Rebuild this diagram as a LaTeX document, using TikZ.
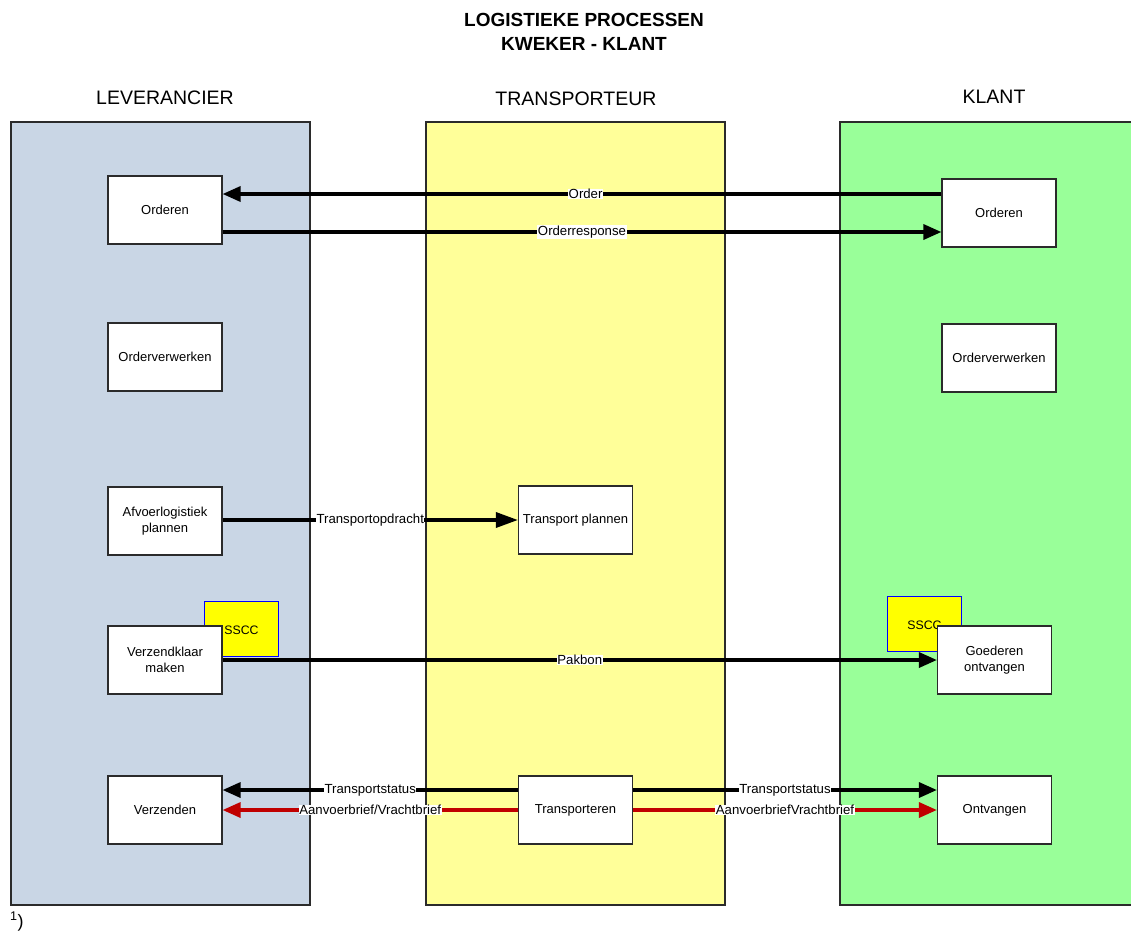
\documentclass[tikz,border=0pt]{standalone}
\usepackage{fontspec}
\setmainfont{Liberation Sans}
\usetikzlibrary{arrows.meta}
\definecolor{lanelev}{HTML}{C9D6E5}
\definecolor{lanetrans}{HTML}{FFFF99}
\definecolor{laneklant}{HTML}{99FF99}
\definecolor{ssccfill}{HTML}{FFFF00}
\definecolor{docred}{HTML}{C00000}
\definecolor{edge}{HTML}{2B2B2B}
\tikzset{
  lane/.style={draw=edge, line width=1.2pt},
  procbox/.style={draw=edge, line width=1.2pt, fill=white, minimum width=114pt, minimum height=68pt,
    align=center, font=\fontsize{13}{15.5}\selectfont, inner sep=1pt},
  ssccbox/.style={draw=blue, line width=0.9pt, fill=ssccfill, minimum width=74pt, minimum height=56pt,
    inner sep=0pt},
  sscctxt/.style={font=\fontsize{12.3}{14}\selectfont, inner sep=0pt},
  flow/.style={line width=3.4pt, -{Triangle[length=18pt,width=15pt]}},
  longflow/.style={line width=3.4pt, -{Triangle[length=22pt,width=15pt]}},
  docflow/.style={flow, draw=docred, -{Triangle[length=18pt,width=15pt,color=docred]}},
  lbl/.style={fill=white, inner sep=0.5pt, font=\fontsize{13.2}{15}\selectfont, text=black},
  lanehead/.style={font=\fontsize{19.5}{23}\selectfont},
  titletxt/.style={font=\fontsize{19}{23}\selectfont\bfseries, align=center}
}
\begin{document}
\begin{tikzpicture}[x=1pt, y=-1pt]
\useasboundingbox (0,0) rectangle (1131,932);

% title and lane headings
\node[titletxt] (title1) at (584,20) {LOGISTIEKE PROCESSEN};
\node[titletxt] (title2) at (584,44) {KWEKER - KLANT};
\node[lanehead] (hlev) at (165,98) {LEVERANCIER};
\node[lanehead] (htrans) at (576,99) {TRANSPORTEUR};
\node[lanehead] (hklant) at (994,97) {KLANT};

% swim lanes
\draw[lane, fill=lanelev] (11,122) rectangle (310,905);
\draw[lane, fill=lanetrans] (426,122) rectangle (725,905);
\draw[lane, fill=laneklant] (840,122) rectangle (1140,905);

% SSCC labels (behind the process boxes)
\node[ssccbox, minimum height=55pt] (ssccL) at (241.5,628.5) {};
\node[sscctxt] (ssccLt) at (241.5,630) {SSCC};
\node[ssccbox, minimum height=55pt] (ssccK) at (924,623.5) {};
\node[sscctxt] (ssccKt) at (924.5,625) {SSCC};

% process boxes
\node[procbox] (lorder) at (165,210) {Orderen};
\node[procbox] (korder) at (999,213) {Orderen};
\node[procbox] (lverw) at (165,357) {Orderverwerken};
\node[procbox] (kverw) at (999,358) {Orderverwerken};
\node[procbox] (afvoer) at (165,521) {Afvoerlogistiek\\plannen};
\node[procbox] (tplan) at (575.5,520) {Transport plannen};
\node[procbox] (verzk) at (165,660) {Verzendklaar\\maken};
\node[procbox] (goed) at (994.5,660) {Goederen\\ontvangen};
\node[procbox] (verz) at (165,810) {Verzenden};
\node[procbox] (transp) at (575.5,810) {Transporteren};
\node[procbox] (ontv) at (994.5,810) {Ontvangen};

% message levels
\coordinate (yorder) at (0,194);
\coordinate (yresp) at (0,232);
\coordinate (yplan) at (0,520);
\coordinate (ystat) at (0,790);
\coordinate (ybrief) at (0,810);

% message flows
\draw[flow] (korder.west |- yorder) -- node[lbl, pos=0.495] {Order} (lorder.east |- yorder);
\draw[flow] (lorder.east |- yresp) -- node[lbl, pos=0.5] {Orderresponse} (korder.west |- yresp);
\draw[longflow] (afvoer.east |- yplan) -- node[lbl, pos=0.5] {Transportopdracht} (tplan.west |- yplan);
\draw[flow] (verzk.east) -- node[lbl, pos=0.5] {Pakbon} (goed.west);
\draw[flow] (transp.west |- ystat) -- node[lbl, pos=0.5] {Transportstatus} (verz.east |- ystat);
\draw[docflow] (transp.west |- ybrief) -- node[lbl, pos=0.5] {Aanvoerbrief/Vrachtbrief} (verz.east |- ybrief);
\draw[flow] (transp.east |- ystat) -- node[lbl, pos=0.5] {Transportstatus} (ontv.west |- ystat);
\draw[docflow] (transp.east |- ybrief) -- node[lbl, pos=0.5] {AanvoerbriefVrachtbrief} (ontv.west |- ybrief);

% footnote mark
\node[anchor=south west, inner sep=0pt, font=\fontsize{18}{20}\selectfont] (fn) at (10,931) {\textsuperscript{1})};
\end{tikzpicture}
\end{document}
